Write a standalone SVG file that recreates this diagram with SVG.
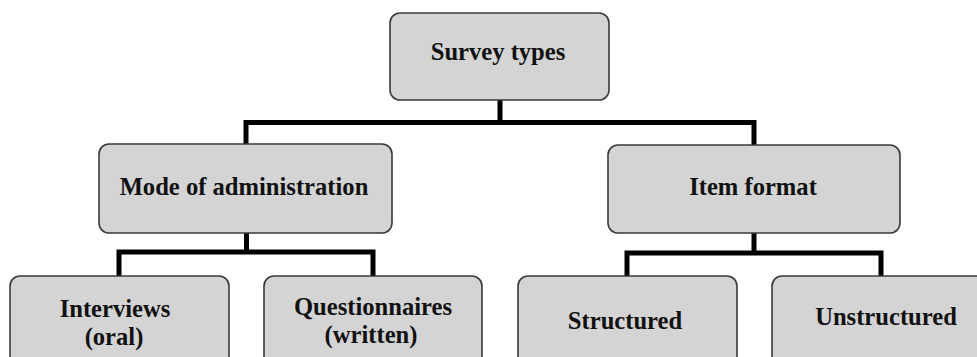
<svg xmlns="http://www.w3.org/2000/svg" width="977" height="357" viewBox="0 0 977 357">
<style>
.box{fill:#d4d4d4;stroke:#3a3a3a;stroke-width:1.6}
.lbl{font-family:"Liberation Serif","Times New Roman",serif;font-weight:bold;font-size:24.6px;fill:#111;text-anchor:middle}
.con{fill:none;stroke:#000;stroke-width:5;stroke-linejoin:miter;stroke-linecap:butt}
</style>
<rect width="977" height="357" fill="#fff"/>
<g id="connectors">
<path class="con" d="M500,100 V122.5"/>
<path class="con" d="M246,145 V122.5 H754 V145"/>
<path class="con" d="M246.5,233 V252"/>
<path class="con" d="M119,276 V252 H373 V276"/>
<path class="con" d="M754,233 V253"/>
<path class="con" d="M627,276 V253 H881 V276"/>
</g>
<g id="survey-types">
<rect class="box" x="390" y="13" width="219" height="87" rx="10"/>
<text class="lbl" x="498" y="60">Survey types</text>
</g>
<g id="mode-of-administration">
<rect class="box" x="99" y="144" width="293" height="89" rx="10"/>
<text class="lbl" x="244" y="195">Mode of administration</text>
</g>
<g id="item-format">
<rect class="box" x="608" y="145" width="292" height="88" rx="10"/>
<text class="lbl" x="753" y="195">Item format</text>
</g>
<g id="interviews">
<rect class="box" x="10" y="276" width="219" height="100" rx="10"/>
<text class="lbl" x="115" y="317">Interviews</text>
<text class="lbl" x="114" y="345">(oral)</text>
</g>
<g id="questionnaires">
<rect class="box" x="264" y="276" width="218" height="100" rx="10"/>
<text class="lbl" x="373" y="315">Questionnaires</text>
<text class="lbl" x="371" y="343">(written)</text>
</g>
<g id="structured">
<rect class="box" x="518" y="276" width="219" height="100" rx="10"/>
<text class="lbl" x="625" y="329">Structured</text>
</g>
<g id="unstructured">
<rect class="box" x="772" y="276" width="219" height="100" rx="10"/>
<text class="lbl" x="886" y="325">Unstructured</text>
</g>
</svg>
